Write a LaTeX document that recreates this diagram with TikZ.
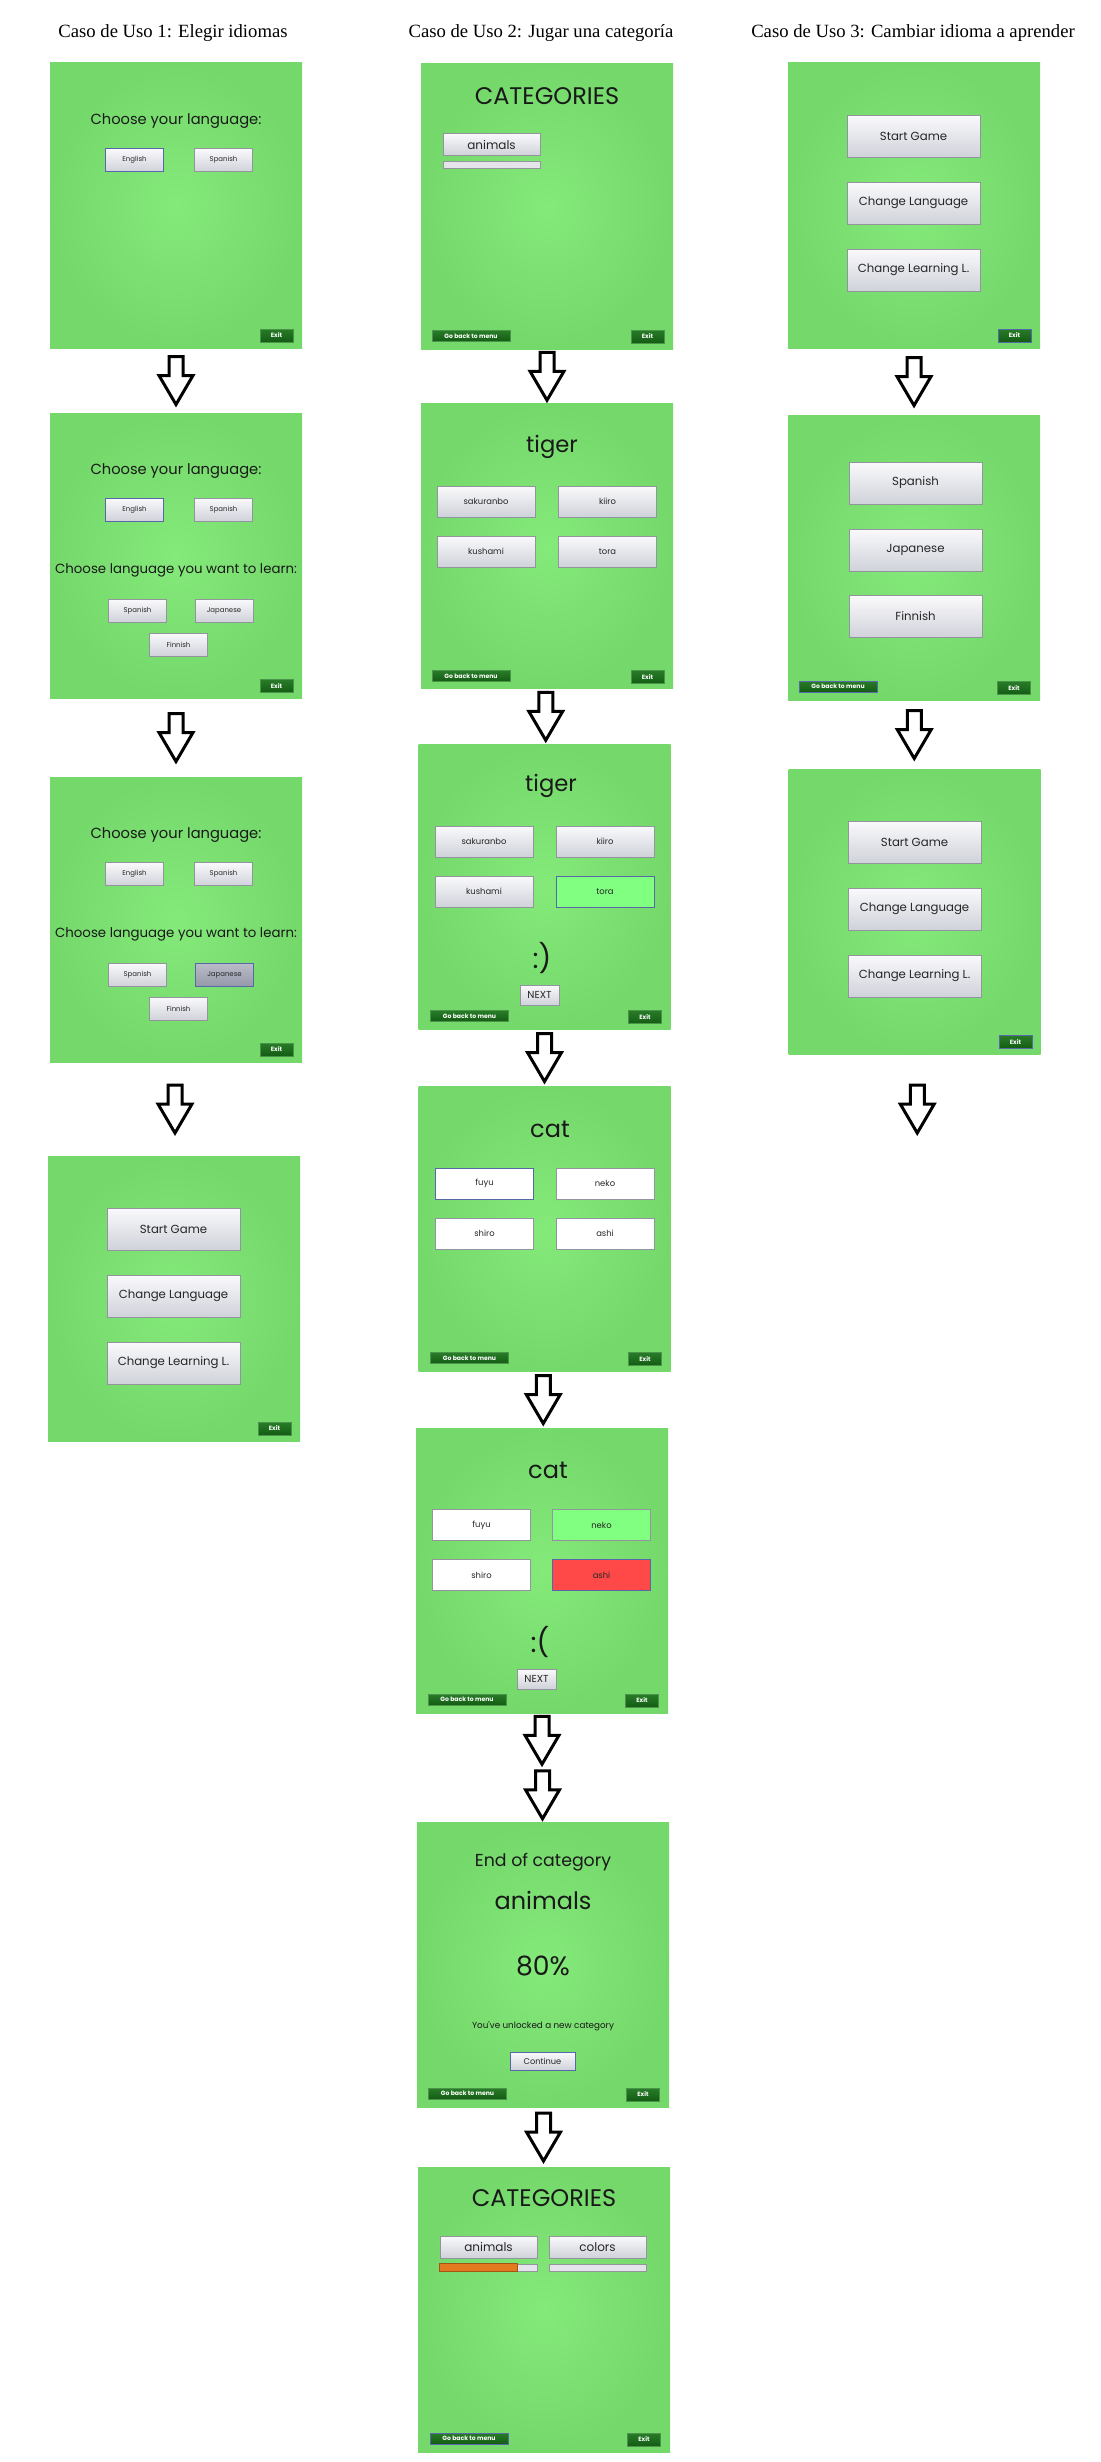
\documentclass[tikz,border=0pt]{standalone}
\usepackage{fontspec}
\setmainfont{Liberation Serif}
\newfontfamily\appfont{Poppins}
\usetikzlibrary{calc}

\definecolor{scrlight}{RGB}{132,234,122}
\definecolor{scrdark}{RGB}{116,216,106}
\definecolor{btntop}{RGB}{250,250,252}
\definecolor{btnbot}{RGB}{208,210,218}
\definecolor{btnline}{RGB}{146,148,158}
\definecolor{selline}{RGB}{86,104,168}
\definecolor{seltop}{RGB}{186,188,200}
\definecolor{selbot}{RGB}{150,153,170}
\definecolor{exittop}{RGB}{40,124,40}
\definecolor{exitbot}{RGB}{20,92,20}
\definecolor{exitline}{RGB}{74,148,74}
\definecolor{goodfill}{RGB}{128,255,128}
\definecolor{badfill}{RGB}{255,72,72}
\definecolor{barfill}{RGB}{228,228,234}
\definecolor{barorange}{RGB}{228,122,32}

\newcommand{\appsize}[1]{\appfont\fontsize{#1}{#1}\selectfont}

\tikzset{
  screen/.style={minimum width=189pt, minimum height=213.75pt, inner sep=0pt, outer sep=0pt, inner color=scrlight, outer color=scrdark},
  heading/.style={anchor=base, inner sep=0pt, font=\fontsize{14}{16}\selectfont},
  say/.style={inner sep=0pt, text=black!90, font=\appsize{#1}},
  btn/.style={draw=btnline, line width=0.6pt, inner sep=0pt, text=black!85},
  glossy/.style={top color=btntop, bottom color=btnbot},
  langbtn/.style={btn, glossy, minimum width=43.5pt, minimum height=17.25pt, font=\appsize{5.2}},
  menubtn/.style={btn, glossy, minimum width=99.75pt, minimum height=31.5pt, font=\appsize{8.8}},
  wordbtn/.style={btn, minimum width=73.5pt, minimum height=23.25pt, font=\appsize{6.3}},
  catbtn/.style={btn, glossy, minimum width=72.75pt, minimum height=16.5pt, font=\appsize{9}},
  nextbtn/.style={btn, glossy, minimum width=29.25pt, minimum height=15pt, font=\appsize{7.6}},
  contbtn/.style={btn, glossy, minimum width=48.75pt, minimum height=13.5pt, font=\appsize{6.2}},
  progbar/.style={btn, fill=barfill, minimum width=72.75pt, minimum height=5.25pt},
  darkbtn/.style={draw=exitline, line width=0.6pt, top color=exittop, bottom color=exitbot, text=white, inner sep=0pt, font=\appsize{4.6}\bfseries},
  exitbtn/.style={darkbtn, minimum width=24.75pt, minimum height=9.75pt},
  backbtn/.style={darkbtn, minimum width=58.5pt, minimum height=8.25pt},
  chosen/.style={draw=selline},
  picked/.style={top color=seltop, bottom color=selbot, draw=selline},
  goodans/.style={fill=goodfill},
  badans/.style={fill=badfill},
  blockarr/.style={draw, fill=white, line width=2.25pt, line join=miter,
    to path={let \p1=($(\tikztostart)!0.5!(\tikztotarget)$) in
      ([shift={(-7,-24)}]\x1,\y1) -- ([shift={(7,-24)}]\x1,\y1) -- ([shift={(7,-5)}]\x1,\y1)
      -- ([shift={(17,-5)}]\x1,\y1) -- ([shift={(0,24)}]\x1,\y1) -- ([shift={(-17,-5)}]\x1,\y1)
      -- ([shift={(-7,-5)}]\x1,\y1) -- cycle}}
}

\begin{document}
\begin{tikzpicture}[x=0.75pt,y=-0.75pt]
\path[use as bounding box, fill=white] (0,0) rectangle (1100,2462);

% Titles
\node[heading] (t1) at (173,37.3) {Caso de Uso 1: Elegir idiomas};
\node[heading] (t2) at (541,37.3) {Caso de Uso 2: Jugar una categoría};
\node[heading] (t3) at (913,37.3) {Caso de Uso 3: Cambiar idioma a aprender};

%Screens, column 1
\node[screen] (p11) at (176,205.5) {};
\node[say=11] (c11a) at (176,121) {Choose your language:};
\node[langbtn, chosen] (c11b) at (134.5,160) {English};
\node[langbtn] (c11c) at (223.5,160) {Spanish};
\node[exitbtn] (c11x) at (276.5,335.5) {Exit};

\node[screen] (p12) at (176,555.5) {};
\node[say=11] (c12a) at (176,471) {Choose your language:};
\node[langbtn, chosen] (c12b) at (134.5,509.5) {English};
\node[langbtn] (c12c) at (223.5,509.5) {Spanish};
\node[say=10] (c12d) at (176,570) {Choose language you want to learn:};
\node[langbtn] (c12e) at (137.5,610.5) {Spanish};
\node[langbtn] (c12f) at (224,610.5) {Japanese};
\node[langbtn] (c12g) at (178.5,644.5) {Finnish};
\node[exitbtn] (c12x) at (276.5,686) {Exit};

\node[screen] (p13) at (176,919.5) {};
\node[say=11] (c13a) at (176,835) {Choose your language:};
\node[langbtn] (c13b) at (134.5,874) {English};
\node[langbtn] (c13c) at (223.5,874) {Spanish};
\node[say=10] (c13d) at (176,934) {Choose language you want to learn:};
\node[langbtn] (c13e) at (137.5,974.5) {Spanish};
\node[langbtn, picked] (c13f) at (224.5,974.5) {Japanese};
\node[langbtn] (c13g) at (178.5,1008.5) {Finnish};
\node[exitbtn] (c13x) at (276.5,1049.5) {Exit};

\node[screen] (p14) at (174,1298.5) {};
\node[menubtn] (c14a) at (173.5,1229) {Start Game};
\node[menubtn] (c14b) at (173.5,1296) {Change Language};
\node[menubtn] (c14c) at (173.5,1363) {Change Learning L.};
\node[exitbtn] (c14x) at (274.5,1428.5) {Exit};

%Screens, column 2
\node[screen] (p21) at (547,206.5) {};
\node[say=18] (c21a) at (547,96) {CATEGORIES};
\node[catbtn] (c21b) at (491.5,144.5) {animals};
\node[progbar] (c21c) at (491.5,165) {};
\node[backbtn] (c21y) at (471,336) {Go back to menu};
\node[exitbtn] (c21x) at (647.5,336.5) {Exit};

\node[screen] (p22) at (547,546) {};
\node[say=17] (c22a) at (552,447) {tiger};
\node[wordbtn, glossy] (c22b) at (486,501.5) {sakuranbo};
\node[wordbtn, glossy] (c22c) at (607.5,501.5) {kiiro};
\node[wordbtn, glossy] (c22d) at (486,551.5) {kushami};
\node[wordbtn, glossy] (c22e) at (607.5,551.5) {tora};
\node[backbtn] (c22y) at (471,676) {Go back to menu};
\node[exitbtn] (c22x) at (647.5,677) {Exit};

\node[screen] (p23) at (544.5,886.5) {};
\node[say=17] (c23a) at (551,786) {tiger};
\node[wordbtn, glossy] (c23b) at (484,841.5) {sakuranbo};
\node[wordbtn, glossy] (c23c) at (605,841.5) {kiiro};
\node[wordbtn, glossy] (c23d) at (484,891.5) {kushami};
\node[wordbtn, goodans, chosen] (c23e) at (605,891.5) {tora};
\node[say=21] (c23f) at (542,958) {:)};
\node[nextbtn] (c23g) at (539.5,995) {NEXT};
\node[backbtn] (c23y) at (469.5,1016) {Go back to menu};
\node[exitbtn] (c23x) at (645,1017) {Exit};

\node[screen] (p24) at (544.5,1228.5) {};
\node[say=18] (c24a) at (550,1129) {cat};
\node[wordbtn, fill=white, chosen] (c24b) at (484.5,1183.5) {fuyu};
\node[wordbtn, fill=white] (c24c) at (605,1183.5) {neko};
\node[wordbtn, fill=white] (c24d) at (484.5,1233.5) {shiro};
\node[wordbtn, fill=white] (c24e) at (605,1233.5) {ashi};
\node[backbtn] (c24y) at (469.5,1358) {Go back to menu};
\node[exitbtn] (c24x) at (645,1359) {Exit};

\node[screen] (p25) at (542,1570.5) {};
\node[say=18] (c25a) at (548,1470) {cat};
\node[wordbtn, fill=white] (c25b) at (481.5,1525) {fuyu};
\node[wordbtn, goodans] (c25c) at (601.5,1525) {neko};
\node[wordbtn, fill=white] (c25d) at (481.5,1575) {shiro};
\node[wordbtn, badans, chosen] (c25e) at (601.5,1575) {ashi};
\node[say=21] (c25f) at (540,1642) {:(};
\node[nextbtn] (c25g) at (536.5,1679) {NEXT};
\node[backbtn] (c25y) at (467,1699.5) {Go back to menu};
\node[exitbtn] (c25x) at (642,1700.5) {Exit};

\node[screen] (p26) at (543,1964.5) {};
\node[say=13] (c26a) at (543,1862) {End of category};
\node[say=18] (c26b) at (543,1900) {animals};
\node[say=20] (c26c) at (543,1966) {80\%};
\node[say=6.6] (c26d) at (543,2026) {You've unlocked a new category};
\node[contbtn, chosen] (c26e) at (542.5,2061) {Continue};
\node[backbtn] (c26y) at (467.5,2093.5) {Go back to menu};
\node[exitbtn] (c26x) at (643,2094.5) {Exit};

\node[screen] (p27) at (544,2309.5) {};
\node[say=18] (c27a) at (544,2198) {CATEGORIES};
\node[catbtn] (c27b) at (488.5,2247) {animals};
\node[catbtn] (c27c) at (597.5,2247) {colors};
\node[progbar] (c27d) at (488.5,2267.5) {};
\node[progbar] (c27e) at (597.5,2267.5) {};
\fill[barorange, draw=barorange!70!black, line width=0.6pt] (c27d.south west) rectangle ($(c27d.north west)!0.8!(c27d.north east)$);
\node[backbtn, chosen] (c27y) at (469,2438.5) {Go back to menu};
\node[exitbtn] (c27x) at (644,2439.5) {Exit};

%Screens, column 3
\node[screen] (p31) at (914,205.5) {};
\node[menubtn] (c31a) at (913.5,136) {Start Game};
\node[menubtn] (c31b) at (913.5,203) {Change Language};
\node[menubtn] (c31c) at (913.5,270) {Change Learning L.};
\node[exitbtn, chosen] (c31x) at (1014.5,335.5) {Exit};

\node[screen] (p32) at (914,557.5) {};
\node[menubtn] (c32a) at (915.5,483) {Spanish};
\node[menubtn] (c32b) at (915.5,550) {Japanese};
\node[menubtn] (c32c) at (915.5,616.5) {Finnish};
\node[backbtn, chosen] (c32y) at (838,686.5) {Go back to menu};
\node[exitbtn] (c32x) at (1014,688) {Exit};

\node[screen] (p33) at (914.5,911.5) {};
\node[menubtn] (c33a) at (914.5,842) {Start Game};
\node[menubtn] (c33b) at (914.5,909) {Change Language};
\node[menubtn] (c33c) at (914.5,976) {Change Learning L.};
\node[exitbtn, chosen] (c33x) at (1015.5,1042) {Exit};

%Arrows
\draw[blockarr] (p11.south) to (p12.north);
\draw[blockarr] (p12.south) to (p13.north);
\draw[blockarr] (p13.south) to (p14.north);
\draw[blockarr] (p21.south) to (p22.north);
\draw[blockarr] (p22.south) to (p23.north);
\draw[blockarr] (p23.south) to (p24.north);
\draw[blockarr] (p24.south) to (p25.north);
\coordinate (mid25) at (542,1767.5);
\draw[blockarr] (p25.south) to (mid25);
\draw[blockarr] (mid25) to (p26.north);
\draw[blockarr] (p26.south) to (p27.north);
\draw[blockarr] (p31.south) to (p32.north);
\draw[blockarr] (p32.south) to (p33.north);
\coordinate (end33) at (920,1164);
\draw[blockarr] (p33.south) to (end33);

\end{tikzpicture}
\end{document}
